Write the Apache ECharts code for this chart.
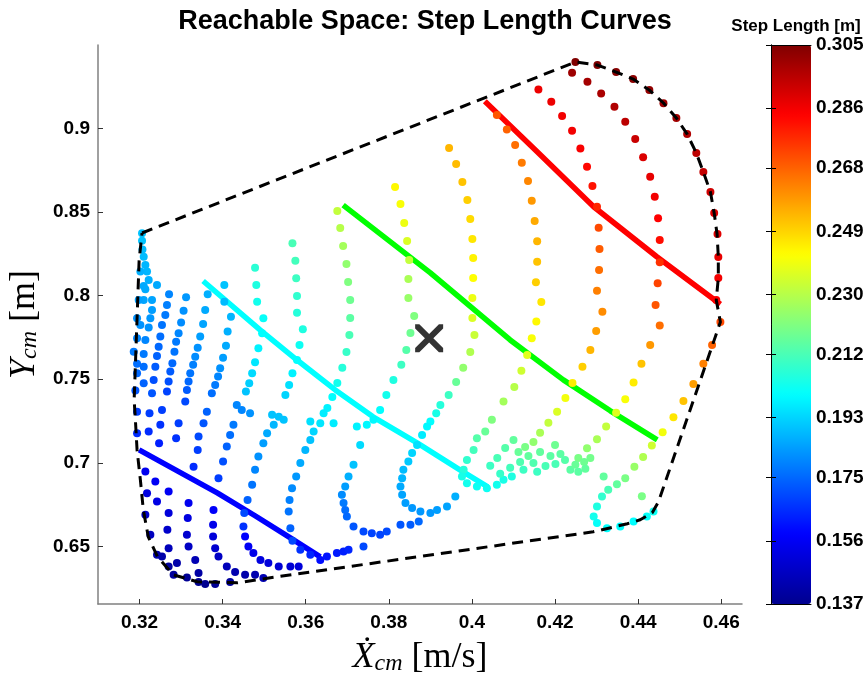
<!DOCTYPE html>
<html>
<head>
<meta charset="utf-8">
<script src="https://cdn.jsdelivr.net/npm/echarts@6/dist/echarts.min.js"></script>
<style>
html,body{margin:0;padding:0;background:#fff}
#chart{width:865px;height:677px}
</style>
</head>
<body>
<div id="chart"></div>
<script>
// Tick values
const xTicks = [0.32, 0.34, 0.36, 0.38, 0.40, 0.42, 0.44, 0.46];
const yTicks = [0.65, 0.70, 0.75, 0.80, 0.85, 0.90];
const cbarTicks = [0.137, 0.156, 0.175, 0.193, 0.212, 0.230, 0.249, 0.268, 0.286, 0.305];

// Reachable-space boundary [x, y]
const hull = [
  [0.3206,0.8375],[0.4249,0.9398],[0.4302,0.9380],[0.4347,0.9338],[0.4388,0.9296],[0.4427,0.9230],
  [0.4461,0.9153],[0.4492,0.9063],[0.4518,0.8967],[0.4540,0.8854],[0.4557,0.8740],[0.4574,0.8620],
  [0.4583,0.8495],[0.4590,0.8369],[0.4593,0.8231],[0.4593,0.8106],[0.4588,0.7974],[0.4598,0.7843],
  [0.4579,0.7705],[0.4449,0.6767],[0.4434,0.6701],[0.4405,0.6659],[0.4374,0.6635],[0.4292,0.6587],
  [0.3515,0.6312],[0.3436,0.6282],[0.3339,0.6288],[0.3281,0.6330],[0.3243,0.6438],[0.3221,0.6557],
  [0.3209,0.6719],[0.3202,0.6898],[0.3194,0.7077],[0.3190,0.7257],[0.3187,0.7376],[0.3199,0.8213],
  [0.3206,0.8375]
];

// Constant step-length curves [x, y]
const curveBlue  = [[0.3199,0.7077],[0.3387,0.6820],[0.3478,0.6683],[0.3563,0.6551],[0.3635,0.6437]];
const curveCyan  = [[0.3353,0.8088],[0.3490,0.7795],[0.3579,0.7615],[0.3671,0.7436],[0.3762,0.7275],[0.3868,0.7119],[0.3971,0.6958],[0.4038,0.6856]];
const curveGreen = [[0.3690,0.8542],[0.3900,0.8136],[0.4092,0.7735],[0.4220,0.7496],[0.4333,0.7311],[0.4446,0.7137]];
const curveRed   = [[0.4031,0.9164],[0.4157,0.8861],[0.4293,0.8532],[0.4445,0.8233],[0.4598,0.7949]];

// Nominal gait point
const nominal = [[0.3897, 0.7745]];

// Sampled gaits [x, y, step length]
const colL1 = [
  [0.3206,0.8373,0.190],[0.3206,0.8329,0.190],[0.3207,0.8277,0.189],[0.3210,0.8233,0.189],[0.3214,0.8184,0.188],
  [0.3218,0.8144,0.188],[0.3202,0.8144,0.187],[0.3222,0.8094,0.187],[0.3210,0.8058,0.186],[0.3214,0.8038,0.186],
  [0.3242,0.8064,0.186],[0.3230,0.7974,0.185],[0.3210,0.7974,0.185],[0.3198,0.7974,0.184],[0.3230,0.7914,0.184],
  [0.3226,0.7865,0.183],[0.3194,0.7865,0.182],[0.3202,0.7825,0.182],[0.3222,0.7809,0.182],[0.3194,0.7745,0.180],
  [0.3214,0.7735,0.180],[0.3186,0.7665,0.178],[0.3210,0.7651,0.178],[0.3194,0.7592,0.176],[0.3210,0.7575,0.176],
  [0.3194,0.7536,0.175],[0.3210,0.7476,0.174],[0.3190,0.7432,0.172],[0.3230,0.7416,0.172]
];
const colL3 = [[0.3271,0.8008,0.180],[0.3266,0.7944,0.179],[0.3262,0.7885,0.178],[0.3254,0.7825,0.177],[0.3250,0.7755,0.176],[0.3246,0.7695,0.175],[0.3242,0.7639,0.174],[0.3238,0.7575,0.173],[0.3234,0.7496,0.171]];
const colL4 = [[0.3312,0.7990,0.183],[0.3306,0.7910,0.182],[0.3300,0.7839,0.181],[0.3294,0.7775,0.180],[0.3288,0.7725,0.178],[0.3284,0.7665,0.177],[0.3279,0.7596,0.175],[0.3274,0.7546,0.173],[0.3270,0.7486,0.171],[0.3266,0.7426,0.169]];
const colL5 = [[0.3364,0.8008,0.187],[0.3358,0.7914,0.186],[0.3353,0.7831,0.185],[0.3346,0.7755,0.184],[0.3340,0.7689,0.182],[0.3334,0.7635,0.181],[0.3329,0.7586,0.179],[0.3322,0.7536,0.177],[0.3318,0.7486,0.175],[0.3314,0.7436,0.173]];
const colL6 = [[0.3404,0.8064,0.190],[0.3404,0.7964,0.189],[0.3420,0.7874,0.188],[0.3412,0.7785,0.187],[0.3408,0.7701,0.186],[0.3401,0.7629,0.184],[0.3394,0.7566,0.182],[0.3389,0.7516,0.180],[0.3382,0.7466,0.178],[0.3374,0.7416,0.176]];
const colL7 = [[0.3478,0.8167,0.207],[0.3481,0.8064,0.205],[0.3483,0.7964,0.203],[0.3498,0.7865,0.201],[0.3495,0.7775,0.200],[0.3486,0.7685,0.198],[0.3478,0.7602,0.196],[0.3471,0.7536,0.194],[0.3464,0.7476,0.192],[0.3456,0.7426,0.190]];
const colL8 = [[0.3568,0.8313,0.212],[0.3575,0.8209,0.211],[0.3577,0.8104,0.210],[0.3579,0.7998,0.208],[0.3579,0.7898,0.206],[0.3593,0.7799,0.205],[0.3585,0.7705,0.202],[0.3579,0.7615,0.200],[0.3568,0.7536,0.198],[0.3560,0.7466,0.195],[0.3551,0.7406,0.193]];
const knotsLeft = [
  [0.3194,0.7306,0.168],[0.3224,0.7297,0.168],[0.3254,0.7316,0.168],[0.3194,0.7177,0.165],[0.3222,0.7187,0.165],
  [0.3250,0.7227,0.166],[0.3247,0.7117,0.163],[0.3294,0.7237,0.168],[0.3288,0.7147,0.166],[0.3310,0.7366,0.170],
  [0.3362,0.7306,0.174],[0.3354,0.7237,0.172],[0.3342,0.7157,0.170],[0.3340,0.7077,0.168],[0.3330,0.6977,0.165],
  [0.3434,0.7346,0.180],[0.3446,0.7316,0.180],[0.3426,0.7227,0.178],[0.3418,0.7167,0.176],[0.3410,0.7097,0.174],
  [0.3401,0.7007,0.171],[0.3390,0.6908,0.168],[0.3466,0.7297,0.182]
];
const colL8low = [[0.3519,0.7287,0.190],[0.3535,0.7276,0.190],[0.3547,0.7257,0.190],[0.3523,0.7227,0.188],[0.3507,0.7177,0.186],[0.3498,0.7117,0.184],[0.3486,0.7037,0.182],[0.3478,0.6958,0.180],[0.3471,0.6868,0.177],[0.3460,0.6778,0.174],[0.3452,0.6699,0.170],[0.3450,0.6619,0.166]];
const colH = [
  [0.3676,0.8507,0.232],[0.3683,0.8405,0.230],[0.3690,0.8297,0.227],[0.3698,0.8190,0.224],[0.3702,0.8082,0.221],
  [0.3707,0.7974,0.218],[0.3707,0.7867,0.215],[0.3705,0.7765,0.212],[0.3698,0.7663,0.209],[0.3688,0.7568,0.206],
  [0.3676,0.7478,0.203],[0.3664,0.7394,0.200],[0.3652,0.7328,0.198],[0.3611,0.7247,0.195],[0.3635,0.7237,0.196],
  [0.3643,0.7297,0.197],[0.3667,0.7237,0.197],[0.3619,0.7187,0.193],[0.3611,0.7137,0.190],[0.3599,0.7077,0.188],
  [0.3587,0.6998,0.186],[0.3577,0.6918,0.183],[0.3567,0.6848,0.181],[0.3561,0.6778,0.179],[0.3559,0.6708,0.177],
  [0.3563,0.6609,0.174],[0.3568,0.6533,0.170],[0.3587,0.6479,0.166],[0.3611,0.6449,0.164]
];
const colA = [
  [0.3815,0.8650,0.243],[0.3828,0.8548,0.241],[0.3837,0.8435,0.239],[0.3844,0.8327,0.236],[0.3849,0.8213,0.232],
  [0.3847,0.8100,0.228],[0.3847,0.7986,0.225],[0.3861,0.7879,0.221],[0.3852,0.7777,0.218],[0.3842,0.7675,0.214],
  [0.3830,0.7586,0.210],[0.3811,0.7496,0.205],[0.3794,0.7406,0.203],[0.3779,0.7316,0.200],[0.3763,0.7257,0.199],
  [0.3723,0.7217,0.198],[0.3747,0.7227,0.199],[0.3731,0.7107,0.194],[0.3715,0.6988,0.190],[0.3703,0.6918,0.187],
  [0.3695,0.6858,0.184],[0.3687,0.6808,0.181],[0.3691,0.6759,0.178],[0.3695,0.6718,0.176],[0.3699,0.6678,0.175],
  [0.3715,0.6619,0.172],[0.3739,0.6589,0.170],[0.3759,0.6579,0.169],[0.3779,0.6569,0.169],[0.3795,0.6589,0.170],
  [0.3828,0.6629,0.172],[0.3852,0.6629,0.173],[0.3872,0.6649,0.175]
];
const colB = [
  [0.3945,0.8883,0.254],[0.3962,0.8788,0.253],[0.3977,0.8680,0.252],[0.3989,0.8572,0.250],[0.3996,0.8459,0.248],
  [0.4001,0.8339,0.246],[0.4003,0.8225,0.244],[0.4003,0.8106,0.242],[0.4001,0.7986,0.239],[0.4001,0.7867,0.236],
  [0.4006,0.7765,0.233],[0.3996,0.7663,0.229],[0.3979,0.7568,0.224],[0.3962,0.7484,0.217],[0.3944,0.7406,0.210],
  [0.3924,0.7346,0.206],[0.3914,0.7297,0.204],[0.3900,0.7247,0.200],[0.3892,0.7217,0.199],[0.3880,0.7167,0.197],
  [0.3868,0.7107,0.195],[0.3856,0.7058,0.193],[0.3847,0.7007,0.191],[0.3835,0.6958,0.189],[0.3832,0.6908,0.188],
  [0.3828,0.6858,0.186],[0.3832,0.6808,0.185],[0.3840,0.6759,0.184],[0.3856,0.6729,0.183],[0.3876,0.6708,0.183],
  [0.3900,0.6699,0.183],[0.3916,0.6718,0.184],[0.3940,0.6738,0.185],[0.3960,0.6798,0.187]
];
const colC = [
  [0.4060,0.9081,0.270],[0.4084,0.8995,0.268],[0.4104,0.8901,0.266],[0.4120,0.8795,0.264],[0.4135,0.8686,0.262],
  [0.4144,0.8568,0.259],[0.4151,0.8447,0.256],[0.4157,0.8325,0.254],[0.4157,0.8203,0.252],[0.4154,0.8080,0.250],
  [0.4167,0.7962,0.246],[0.4155,0.7845,0.243],[0.4144,0.7745,0.241],[0.4133,0.7645,0.237],[0.4119,0.7550,0.234],
  [0.4102,0.7454,0.230],[0.4076,0.7366,0.227],[0.4048,0.7257,0.221],[0.4032,0.7187,0.217],[0.4012,0.7147,0.214],
  [0.4004,0.7077,0.211],[0.3988,0.7017,0.208],[0.3980,0.6958,0.206],[0.3976,0.6918,0.204],[0.3988,0.6878,0.203],
  [0.4012,0.6858,0.202],[0.4036,0.6848,0.202],[0.4060,0.6868,0.203],[0.4076,0.6898,0.204],[0.4096,0.6918,0.205]
];
const colD = [
  [0.4160,0.9234,0.287],[0.4191,0.9160,0.287],[0.4217,0.9075,0.286],[0.4241,0.8987,0.286],[0.4261,0.8881,0.285],
  [0.4277,0.8771,0.283],[0.4290,0.8656,0.281],[0.4301,0.8532,0.278],[0.4305,0.8407,0.272],[0.4307,0.8279,0.269],
  [0.4306,0.8154,0.266],[0.4301,0.8030,0.263],[0.4314,0.7904,0.261],[0.4299,0.7789,0.258],[0.4285,0.7675,0.254],
  [0.4266,0.7574,0.250],[0.4242,0.7478,0.245],[0.4225,0.7388,0.240],[0.4205,0.7305,0.236],[0.4184,0.7239,0.232],
  [0.4164,0.7179,0.228],[0.4148,0.7125,0.224],[0.4128,0.7095,0.220],[0.4112,0.7065,0.217],[0.4136,0.7041,0.216],
  [0.4164,0.7065,0.216],[0.4189,0.7041,0.215],[0.4213,0.7053,0.215],[0.4116,0.7005,0.213],[0.4148,0.6999,0.213],
  [0.4177,0.6981,0.212],[0.4201,0.6993,0.212],[0.4092,0.6970,0.211],[0.4124,0.6958,0.210],[0.4157,0.6946,0.210],
  [0.4068,0.6934,0.209]
];
const blobMid = [[0.4080,0.7089,0.214],[0.4061,0.7029,0.212],[0.4044,0.6982,0.210],[0.4100,0.7137,0.216],[0.4200,0.7107,0.218],[0.4224,0.7017,0.214],[0.4285,0.7029,0.219],[0.4237,0.6958,0.215]];
const colE = [
  [0.4241,0.9334,0.300],[0.4278,0.9280,0.299],[0.4311,0.9210,0.298],[0.4343,0.9130,0.297],[0.4369,0.9041,0.295],
  [0.4393,0.8937,0.293],[0.4412,0.8828,0.290],[0.4429,0.8712,0.288],[0.4440,0.8592,0.286],[0.4448,0.8463,0.284],
  [0.4452,0.8333,0.282],[0.4452,0.8200,0.276],[0.4447,0.8074,0.273],[0.4442,0.7944,0.270],[0.4452,0.7821,0.266],
  [0.4429,0.7705,0.259],[0.4408,0.7592,0.252],[0.4389,0.7480,0.245],[0.4369,0.7380,0.241],[0.4347,0.7299,0.237],
  [0.4323,0.7217,0.232],[0.4301,0.7141,0.228],[0.4277,0.7087,0.224],[0.4256,0.7029,0.220],[0.4270,0.7005,0.218],
  [0.4249,0.6988,0.217],[0.4273,0.6964,0.216],[0.4256,0.6946,0.215],[0.4317,0.6918,0.216],[0.4409,0.6800,0.220]
];
const colF = [
  [0.4249,0.9398,0.305],[0.4302,0.9380,0.305],[0.4347,0.9338,0.304],[0.4388,0.9296,0.303],[0.4427,0.9230,0.302],
  [0.4461,0.9152,0.300],[0.4492,0.9063,0.299],[0.4518,0.8967,0.297],[0.4540,0.8853,0.295],[0.4557,0.8740,0.294],
  [0.4574,0.8620,0.292],[0.4583,0.8495,0.290],[0.4591,0.8369,0.289],[0.4593,0.8231,0.288],[0.4593,0.8106,0.286],
  [0.4588,0.7974,0.284],[0.4598,0.7843,0.272],[0.4578,0.7705,0.268],[0.4557,0.7592,0.263],[0.4533,0.7472,0.258],
  [0.4509,0.7370,0.252],[0.4485,0.7273,0.246],[0.4459,0.7183,0.240],[0.4433,0.7103,0.234],[0.4412,0.7034,0.229],
  [0.4391,0.6977,0.225],[0.4369,0.6908,0.220],[0.4349,0.6872,0.216],[0.4328,0.6838,0.212],[0.4313,0.6798,0.208],
  [0.4301,0.6738,0.205],[0.4293,0.6678,0.203],[0.4301,0.6639,0.201],[0.4325,0.6609,0.200],[0.4357,0.6619,0.200],
  [0.4389,0.6649,0.200],[0.4421,0.6678,0.201],[0.4437,0.6708,0.202]
];
const blueEdge = [
  [0.3214,0.6948,0.155],[0.3218,0.6818,0.152],[0.3214,0.6689,0.148],[0.3226,0.6569,0.146],[0.3242,0.6449,0.143],
  [0.3254,0.6439,0.142],[0.3270,0.6379,0.140],[0.3282,0.6330,0.139],[0.3314,0.6314,0.138],[0.3342,0.6286,0.137],
  [0.3358,0.6274,0.137],[0.3382,0.6274,0.138],[0.3418,0.6286,0.140]
];
const blueRow1 = [[0.3238,0.6888,0.156],[0.3242,0.6768,0.153],[0.3270,0.6828,0.156],[0.3270,0.6699,0.151],[0.3267,0.6599,0.148],[0.3270,0.6489,0.145],[0.3290,0.6400,0.142]];
const blueRow2 = [[0.3318,0.6759,0.155],[0.3316,0.6669,0.152],[0.3314,0.6569,0.149],[0.3318,0.6499,0.147],[0.3334,0.6419,0.144],[0.3342,0.6340,0.141]];
const blueRow3 = [[0.3378,0.6718,0.157],[0.3377,0.6629,0.154],[0.3377,0.6559,0.151],[0.3382,0.6489,0.149],[0.3390,0.6439,0.147],[0.3410,0.6379,0.145],[0.3430,0.6346,0.143],[0.3454,0.6330,0.142],[0.3478,0.6330,0.143],[0.3498,0.6310,0.144]];
const blueRow4 = [[0.3454,0.6559,0.158],[0.3462,0.6499,0.156],[0.3474,0.6460,0.154],[0.3491,0.6419,0.152],[0.3510,0.6400,0.151],[0.3535,0.6379,0.150],[0.3563,0.6379,0.150],[0.3583,0.6379,0.151]];
const blueTail = [[0.3635,0.6419,0.160],[0.3651,0.6439,0.161],[0.3675,0.6460,0.162],[0.3691,0.6469,0.163],[0.3703,0.6479,0.164],[0.3739,0.6499,0.170]];

const samples = [].concat(colL1, colL3, colL4, colL5, colL6, colL7, colL8, knotsLeft, colL8low,
  colH, colA, colB, colC, colD, blobMid, colE, colF, blueEdge, blueRow1, blueRow2, blueRow3, blueRow4, blueTail);

// jet colour map
const jet = ['#00008f','#0000ff','#0080ff','#00ffff','#80ff80','#ffff00','#ff8000','#ff0000','#800000'];

const sans = 'Liberation Sans, Arial, Helvetica, sans-serif';
const serif = 'Liberation Serif, DejaVu Serif, Times New Roman, serif';
const fmt2 = v => String(Number(v.toFixed(2)));

const nameRich = {
  i: {fontFamily: serif, fontStyle: 'italic', fontSize: 36, lineHeight: 42, verticalAlign: 'bottom', color: '#000'},
  s: {fontFamily: serif, fontStyle: 'italic', fontSize: 24, lineHeight: 21, verticalAlign: 'bottom', color: '#000'},
  r: {fontFamily: serif, fontSize: 36, lineHeight: 42, verticalAlign: 'bottom', color: '#000'}
};

const chart = echarts.init(document.getElementById('chart'), null, {renderer: 'canvas'});
chart.setOption({
  animation: false,
  backgroundColor: '#ffffff',
  title: [
    {text: 'Reachable Space: Step Length Curves', left: 420, top: 3, textAlign: 'center',
     textStyle: {fontFamily: sans, fontWeight: 'bold', fontSize: 27, color: '#000'}},
    {text: 'Step Length [m]', left: 791, top: 13, textAlign: 'center',
     textStyle: {fontFamily: sans, fontWeight: 'bold', fontSize: 17, color: '#000'}}
  ],
  grid: [
    {left: 98, top: 45, width: 644, height: 559, containLabel: false, outerBoundsMode: 'none'},
    {left: 771, top: 45, width: 40, height: 559, containLabel: false, outerBoundsMode: 'none'}
  ],
  xAxis: [
    {gridIndex: 0, type: 'value', min: 0.31, max: 0.465,
     axisLine: {lineStyle: {color: '#808080', width: 1.5}},
     axisTick: {customValues: xTicks, inside: true, length: 5, lineStyle: {color: '#333'}},
     axisLabel: {customValues: xTicks, formatter: fmt2, fontFamily: sans, fontWeight: 'bold', fontSize: 19, color: '#000', margin: 9},
     splitLine: {show: false},
     name: '{i|\u1E8A}{s|cm} {r|[m/s]}', nameLocation: 'middle', nameGap: 28,
     nameTextStyle: {fontFamily: serif, fontSize: 36, color: '#000', rich: nameRich}
    },
    {gridIndex: 1, type: 'value', min: 0, max: 1, position: 'bottom', z: 10,
     axisLine: {lineStyle: {color: '#000', width: 1}}, axisTick: {show: false}, axisLabel: {show: false}, splitLine: {show: false}},
    {gridIndex: 1, type: 'value', min: 0, max: 1, position: 'top', z: 10,
     axisLine: {lineStyle: {color: '#000', width: 1}}, axisTick: {show: false}, axisLabel: {show: false}, splitLine: {show: false}}
  ],
  yAxis: [
    {gridIndex: 0, type: 'value', min: 0.6155, max: 0.95,
     axisLine: {show: true, lineStyle: {color: '#808080', width: 1.5}},
     axisTick: {show: true, customValues: yTicks, inside: true, length: 5, lineStyle: {color: '#333'}},
     axisLabel: {customValues: yTicks, formatter: fmt2, fontFamily: sans, fontWeight: 'bold', fontSize: 19, color: '#000', margin: 8},
     splitLine: {show: false},
     name: '{i|Y}{s|cm} {r|[m]}', nameLocation: 'middle', nameGap: 42, nameRotate: 90,
     nameTextStyle: {fontFamily: serif, fontSize: 36, color: '#000', rich: nameRich}
    },
    {gridIndex: 1, type: 'value', min: 0.137, max: 0.305, position: 'right', z: 10,
     axisLine: {show: true, lineStyle: {color: '#000', width: 1}},
     axisTick: {show: true, customValues: cbarTicks, inside: true, length: 5, lineStyle: {color: '#000'}},
     axisLabel: {customValues: cbarTicks, formatter: v => v.toFixed(3), fontFamily: sans, fontWeight: 'bold', fontSize: 19, color: '#000', margin: 5},
     splitLine: {show: false}},
    {gridIndex: 1, type: 'value', min: 0.137, max: 0.305, position: 'left', z: 10,
     axisLine: {show: true, lineStyle: {color: '#000', width: 1}},
     axisTick: {show: true, customValues: cbarTicks, inside: true, length: 5, lineStyle: {color: '#000'}},
     axisLabel: {show: false}, splitLine: {show: false}}
  ],
  visualMap: {
    type: 'continuous', min: 0.137, max: 0.305, dimension: 2, seriesIndex: 5,
    inRange: {color: jet}, calculable: false, hoverLink: false,
    left: 771, top: 45, itemWidth: 40, itemHeight: 559, padding: 0, text: null, itemGap: 0
  },
  series: [
    {type: 'line', data: hull, symbol: 'none', z: 4, silent: true,
     lineStyle: {color: '#000', width: 3, type: [11, 7]}},
    {type: 'line', data: curveBlue, symbol: 'none', z: 2, silent: true, lineStyle: {color: '#0000ff', width: 5.5}},
    {type: 'line', data: curveCyan, symbol: 'none', z: 2, silent: true, lineStyle: {color: '#00ffff', width: 5.5}},
    {type: 'line', data: curveGreen, symbol: 'none', z: 2, silent: true, lineStyle: {color: '#00ff00', width: 5.5}},
    {type: 'line', data: curveRed, symbol: 'none', z: 2, silent: true, lineStyle: {color: '#ff0000', width: 5.5}},
    {type: 'scatter', data: samples, symbol: 'circle', symbolSize: 8, z: 3, silent: true,
     itemStyle: {opacity: 1}},
    {type: 'scatter', data: nominal, z: 5, silent: true, symbolSize: 28,
     symbol: 'path://M0,0 L3,0 L10,7 L17,0 L20,0 L20,3 L13,10 L20,17 L20,20 L17,20 L10,13 L3,20 L0,20 L0,17 L7,10 L0,3 Z',
     itemStyle: {color: '#000'}}
  ]
});
</script>
</body>
</html>
